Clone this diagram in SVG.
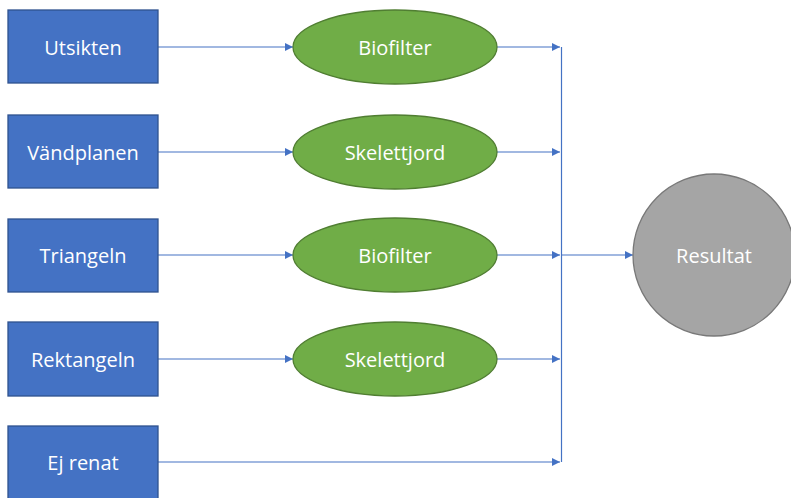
<svg xmlns="http://www.w3.org/2000/svg" width="791" height="498" viewBox="0 0 791 498">
<defs>
<marker id="ah" viewBox="0 0 10 10" refX="10" refY="5" markerWidth="8" markerHeight="8" markerUnits="userSpaceOnUse" orient="auto">
<path d="M0,0 L10,5 L0,10 z" fill="#4472C4"/>
</marker>
<style>
.box{fill:#4472C4;stroke:#2F528F;stroke-width:1.3}
.ell{fill:#70AD47;stroke:#507E32;stroke-width:1.3}
.res{fill:#A5A5A5;stroke:#787878;stroke-width:1.3}
.t{font-family:"Open Sans","Noto Sans","Liberation Sans",sans-serif;font-size:20px;fill:#ffffff;text-anchor:middle;dominant-baseline:central}
.c{stroke:#4472C4;stroke-width:1.2;fill:none}
</style>
</defs>
<rect width="791" height="498" fill="#ffffff"/>
<g id="connectors">
<line class="c" x1="158" y1="47" x2="293" y2="47" marker-end="url(#ah)"/>
<line class="c" x1="158" y1="152" x2="293" y2="152" marker-end="url(#ah)"/>
<line class="c" x1="158" y1="255" x2="293" y2="255" marker-end="url(#ah)"/>
<line class="c" x1="158" y1="359" x2="293" y2="359" marker-end="url(#ah)"/>
<line class="c" x1="497" y1="47" x2="560" y2="47" marker-end="url(#ah)"/>
<line class="c" x1="497" y1="152" x2="560" y2="152" marker-end="url(#ah)"/>
<line class="c" x1="497" y1="255" x2="560" y2="255" marker-end="url(#ah)"/>
<line class="c" x1="497" y1="359" x2="560" y2="359" marker-end="url(#ah)"/>
<line class="c" x1="158" y1="462" x2="560" y2="462" marker-end="url(#ah)"/>
<line class="c" x1="561.5" y1="47" x2="561.5" y2="462"/>
<line class="c" x1="561.5" y1="255" x2="633" y2="255" marker-end="url(#ah)"/>
</g>
<g id="n-utsikten"><rect class="box" x="8" y="10" width="150" height="73"/><text class="t" x="83" y="47">Utsikten</text></g>
<g id="n-vandplanen"><rect class="box" x="8" y="115" width="150" height="73"/><text class="t" x="83" y="152">Vändplanen</text></g>
<g id="n-triangeln"><rect class="box" x="8" y="219" width="150" height="73"/><text class="t" x="83" y="255">Triangeln</text></g>
<g id="n-rektangeln"><rect class="box" x="8" y="322" width="150" height="74"/><text class="t" x="83" y="359">Rektangeln</text></g>
<g id="n-ejrenat"><rect class="box" x="8" y="426" width="150" height="74"/><text class="t" x="83" y="462">Ej renat</text></g>
<g id="n-bio1"><ellipse class="ell" cx="395" cy="47" rx="102" ry="37"/><text class="t" x="395" y="47">Biofilter</text></g>
<g id="n-skel1"><ellipse class="ell" cx="395" cy="152" rx="102" ry="37"/><text class="t" x="395" y="152">Skelettjord</text></g>
<g id="n-bio2"><ellipse class="ell" cx="395" cy="255" rx="102" ry="37"/><text class="t" x="395" y="255">Biofilter</text></g>
<g id="n-skel2"><ellipse class="ell" cx="395" cy="359" rx="102" ry="37"/><text class="t" x="395" y="359">Skelettjord</text></g>
<g id="n-resultat"><circle class="res" cx="714" cy="255" r="81"/><text class="t" x="714" y="255">Resultat</text></g>
</svg>
